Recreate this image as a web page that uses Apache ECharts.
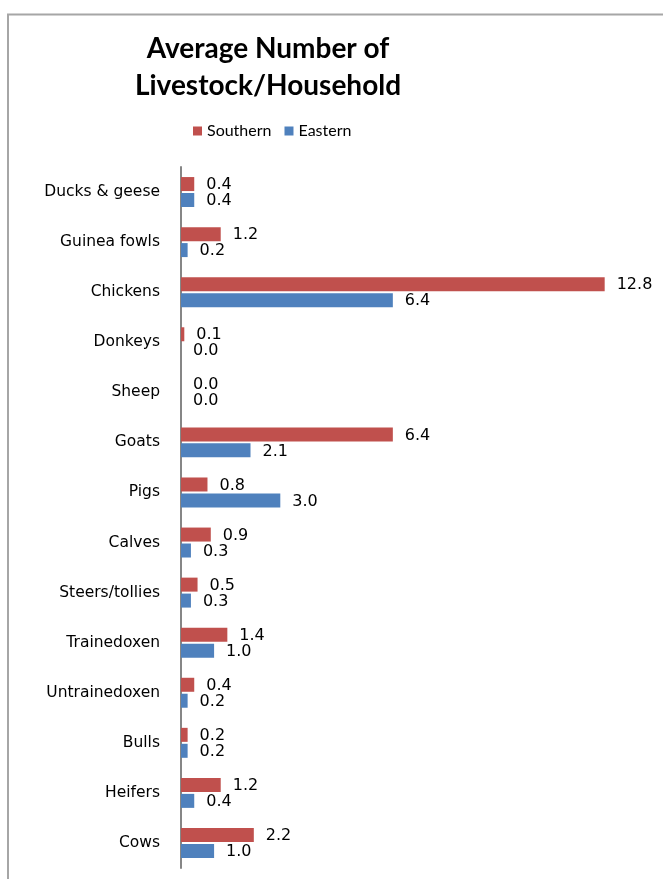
<!DOCTYPE html>
<html>
<head>
<meta charset="utf-8">
<script src="https://cdn.jsdelivr.net/npm/echarts@6/dist/echarts.min.js"></script>
<style>
html,body{margin:0;padding:0;background:#fff;}
#chart{width:663px;height:879px;}
</style>
</head>
<body>
<div id="chart"></div>
<script>
var categories = ["Ducks & geese","Guinea fowls","Chickens","Donkeys","Sheep","Goats","Pigs","Calves","Steers/tollies","Trainedoxen","Untrainedoxen","Bulls","Heifers","Cows"];
var southern = [0.4, 1.2, 12.8, 0.1, 0.0, 6.4, 0.8, 0.9, 0.5, 1.4, 0.4, 0.2, 1.2, 2.2];
var eastern  = [0.4, 0.2, 6.4, 0.0, 0.0, 2.1, 3.0, 0.3, 0.3, 1.0, 0.2, 0.2, 0.4, 1.0];
var seriesNames = ["Southern","Eastern"];

var FONT = "Lato, 'Liberation Sans', sans-serif";
var WIDE = "'DejaVu Sans', sans-serif";
var chart = echarts.init(document.getElementById('chart'));
var labelCfg = {
  show: true, position: 'right', distance: 12, offset:[0,1],
  color: '#000', fontFamily: WIDE, fontSize: 16,
  formatter: function(p){ return Number(p.value).toFixed(1); }
};
chart.setOption({
  animation: false,
  backgroundColor: '#fff',
  graphic: [{
    type: 'rect', shape: {x: 8, y: 14.5, width: 720, height: 900},
    style: {fill: 'none', stroke: '#a6a6a6', lineWidth: 2}, silent: true
  }],
  title: {
    text: 'Average Number of\nLivestock/Household',
    left: 263, top: 25, textAlign: 'center',
    textStyle: {fontFamily: FONT, fontWeight: 'bold', fontSize: 28, lineHeight: 37, color: '#000'}
  },
  legend: {
    data: seriesNames, left: 193, top: 123, padding: 0,
    itemWidth: 9, itemHeight: 9, itemGap: 13, icon: 'rect',
    textStyle: {fontFamily: FONT, fontSize: 16, color: '#000'}
  },
  grid: {left: 181, right: 18.6, top: 167, bottom: 11, containLabel: false},
  xAxis: {
    type: 'value', min: 0, max: 14, show: false,
    splitLine: {show: false}
  },
  yAxis: {
    type: 'category', data: categories, inverse: true,
    axisLine: {show: true, lineStyle: {color: '#868686', width: 2}},
    axisTick: {show: false},
    axisLabel: {fontFamily: WIDE, fontSize: 15.5, color: '#000', margin: 21}
  },
  series: [
    {name: seriesNames[0], type: 'bar', data: southern, barWidth: 14, barGap: '14%',
     itemStyle: {color: '#C0504D'}, label: labelCfg},
    {name: seriesNames[1], type: 'bar', data: eastern, barWidth: 14, barGap: '14%',
     itemStyle: {color: '#4F81BD'}, label: labelCfg}
  ]
});
</script>
</body>
</html>
